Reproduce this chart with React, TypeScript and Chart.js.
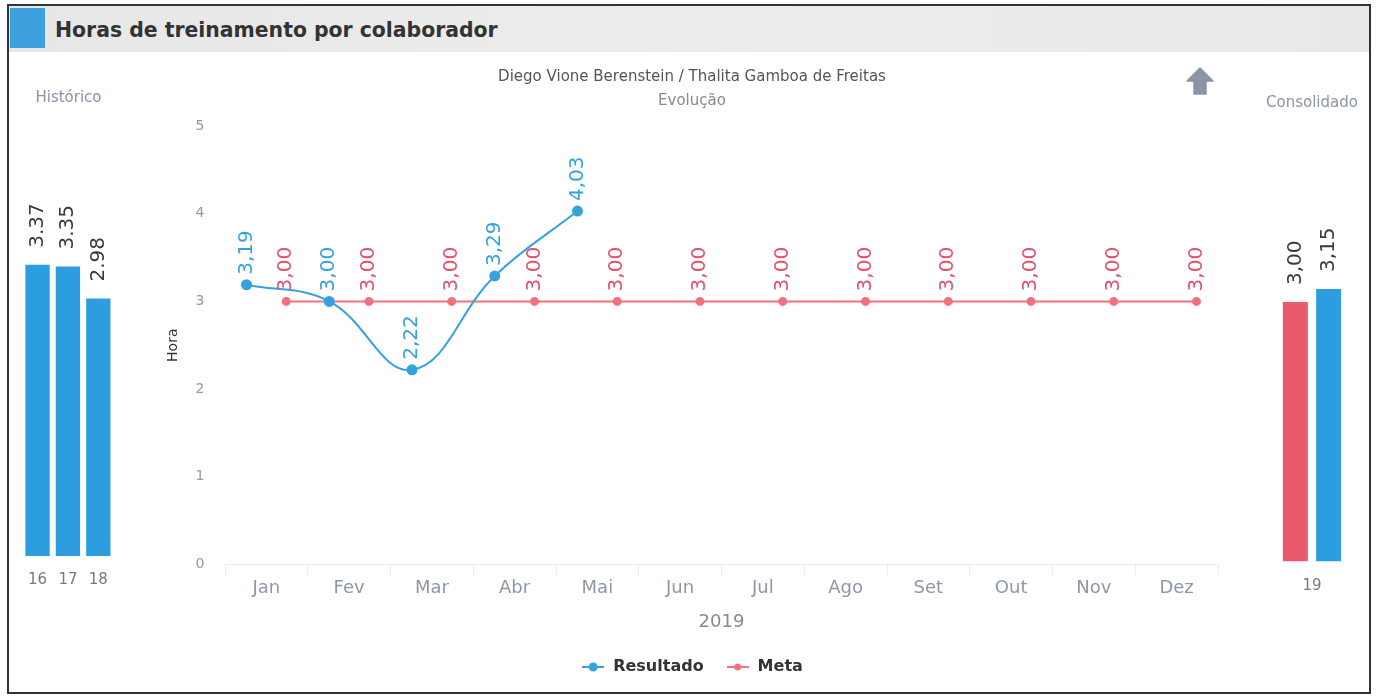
import React, { useEffect, useRef } from 'react';
import { Chart, registerables } from 'chart.js';

Chart.register(...registerables);

// ---------- data ----------
const HIST_LABELS = ['16', '17', '18'];
const HIST_VALUES = [3.37, 3.35, 2.98];

const MONTHS = ['Jan', 'Fev', 'Mar', 'Abr', 'Mai', 'Jun', 'Jul', 'Ago', 'Set', 'Out', 'Nov', 'Dez'];
const RESULTADO = [3.19, 3.0, 2.22, 3.29, 4.03];
const META = [3.0, 3.0, 3.0, 3.0, 3.0, 3.0, 3.0, 3.0, 3.0, 3.0, 3.0, 3.0];

const CONS_LABELS = ['19'];
const CONS_META = [3.0];
const CONS_RESULTADO = [3.15];

const Y_MIN = 0;
const Y_MAX = 5;
const SERIES_SHIFT = 0.24;

// ---------- styles ----------
const FONT = "'DejaVu Sans', sans-serif";
const BLUE = '#2c9ee0';
const BLUE_LINE = '#35a2e0';
const RED_LINE = '#f4707f';
const RED_LABEL = '#e3506c';
const RED_BAR = '#e95a6c';

const valueLabelPlugin = {
  id: 'valueLabels',
  afterDatasetsDraw(chart: any, _args: any, opts: any) {
    const ctx = chart.ctx;
    chart.data.datasets.forEach((ds: any, di: number) => {
      const meta = chart.getDatasetMeta(di);
      if (meta.hidden) return;
      meta.data.forEach((el: any, i: number) => {
        const raw = ds.data[i];
        const v = raw !== null && typeof raw === 'object' ? raw.y : raw;
        if (v === null || v === undefined) return;
        const { x, y } = el.getProps(['x', 'y'], true);
        const text = Number(v).toFixed(2).replace('.', opts.decimal);
        ctx.save();
        ctx.translate(x, y - opts.gap);
        ctx.rotate(-Math.PI / 2);
        ctx.font = opts.font;
        ctx.fillStyle = ds.labelColor || opts.color;
        ctx.textAlign = 'left';
        ctx.textBaseline = 'middle';
        ctx.fillText(text, 0, 0);
        ctx.restore();
      });
    });
  },
};

// invisible axis used only to reserve a fixed amount of room at one side
function spacer(position: string, size: number): any {
  const horizontal = position === 'top' || position === 'bottom';
  return {
    type: 'linear',
    position,
    display: true,
    grid: { display: false, drawTicks: false },
    border: { display: false },
    ticks: { display: false },
    afterFit: (s: any) => {
      if (horizontal) s.height = size;
      else s.width = size;
    },
  };
}

function makeSymbol(color: string, r: number) {
  const c = document.createElement('canvas');
  c.width = 22;
  c.height = 12;
  const g = c.getContext('2d')!;
  g.strokeStyle = color;
  g.lineWidth = 2;
  g.beginPath();
  g.moveTo(0, 6);
  g.lineTo(22, 6);
  g.stroke();
  g.fillStyle = color;
  g.beginPath();
  g.arc(11, 6, r, 0, Math.PI * 2);
  g.fill();
  return c;
}

function ChartCanvas({ make, left, top, width, height }: any) {
  const ref = useRef<HTMLCanvasElement>(null);
  useEffect(() => {
    const chart = new Chart(ref.current as HTMLCanvasElement, make());
    return () => chart.destroy();
  }, []);
  return (
    <canvas
      ref={ref}
      width={width}
      height={height}
      style={{ position: 'absolute', left, top, width, height }}
    />
  );
}

function barOptions(title: string, decimal: string, padL: number, padR: number, tickPad: number): any {
  return {
    responsive: false,
    animation: false,
    layout: { padding: 0 },
    plugins: {
      legend: { display: false },
      tooltip: { enabled: false },
      title: {
        display: true,
        text: title,
        color: '#8a92a8',
        font: { family: FONT, size: 15, weight: 'normal' },
        padding: { top: 4, bottom: 17 },
      },
      valueLabels: { decimal, gap: 17, font: `20px ${FONT}`, color: '#3a3a3a' },
    },
    scales: {
      x: {
        grid: { display: false, drawTicks: false },
        border: { display: false },
        ticks: { color: '#7a7a7a', font: { family: FONT, size: 15 }, padding: tickPad, maxRotation: 0 },
        afterFit: (s: any) => {
          s.height = tickPad + 18;
        },
      },
      y: { display: false, min: Y_MIN, max: Y_MAX },
      padL: spacer('left', padL),
      padR: spacer('right', padR),
    },
  };
}

function historicoConfig(): any {
  return {
    type: 'bar',
    data: {
      labels: HIST_LABELS,
      datasets: [
        {
          label: 'Histórico',
          data: HIST_VALUES,
          backgroundColor: BLUE,
          categoryPercentage: 1,
          barPercentage: 0.8,
        },
      ],
    },
    plugins: [valueLabelPlugin],
    options: barOptions('Histórico', '.', 6, 11.5, 15),
  };
}

function consolidadoConfig(): any {
  return {
    type: 'bar',
    data: {
      labels: CONS_LABELS,
      datasets: [
        {
          label: 'Meta',
          data: CONS_META,
          backgroundColor: RED_BAR,
          categoryPercentage: 0.9,
          barPercentage: 0.75,
        },
        {
          label: 'Resultado',
          data: CONS_RESULTADO,
          backgroundColor: BLUE,
          categoryPercentage: 0.9,
          barPercentage: 0.75,
        },
      ],
    },
    plugins: [valueLabelPlugin],
    options: barOptions('Consolidado', ',', 13, 13, 15.5),
  };
}

function evolucaoConfig(): any {
  const symbols = [makeSymbol(BLUE_LINE, 4.5), makeSymbol(RED_LINE, 3.5)];
  return {
    type: 'line',
    data: {
      datasets: [
        {
          label: 'Resultado',
          xAxisID: 'xPos',
          data: RESULTADO.map((v, i) => ({ x: i - SERIES_SHIFT, y: v })),
          borderColor: BLUE_LINE,
          backgroundColor: BLUE_LINE,
          borderWidth: 2,
          pointRadius: 4.5,
          pointHoverRadius: 4.5,
          tension: 0.4,
          labelColor: BLUE_LINE,
        },
        {
          label: 'Meta',
          xAxisID: 'xPos',
          data: META.map((v, i) => ({ x: i + SERIES_SHIFT, y: v })),
          borderColor: RED_LINE,
          backgroundColor: RED_LINE,
          borderWidth: 2,
          pointRadius: 3.5,
          pointHoverRadius: 3.5,
          tension: 0,
          labelColor: RED_LABEL,
        },
      ],
    },
    plugins: [valueLabelPlugin],
    options: {
      responsive: false,
      animation: false,
      layout: { padding: 0 },
      plugins: {
        tooltip: { enabled: false },
        title: {
          display: true,
          text: 'Diego Vione Berenstein / Thalita Gamboa de Freitas',
          color: '#555',
          font: { family: FONT, size: 15, weight: 'normal' },
          padding: { top: 8, bottom: 6 },
        },
        subtitle: {
          display: true,
          text: 'Evolução',
          color: '#8a8a8a',
          font: { family: FONT, size: 15, weight: 'normal' },
          padding: { top: 0, bottom: 16 },
        },
        legend: {
          position: 'bottom',
          labels: {
            usePointStyle: true,
            pointStyleWidth: 24,
            padding: 22,
            color: '#333',
            font: { family: FONT, size: 16, weight: 'bold' },
            generateLabels: (chart: any) => {
              const items = Chart.defaults.plugins.legend.labels.generateLabels(chart);
              return items.map((it: any, i: number) => ({ ...it, pointStyle: symbols[i] }));
            },
          },
        },
        valueLabels: { decimal: ',', gap: 10, font: `20px ${FONT}`, color: '#333' },
      },
      scales: {
        x: {
          type: 'category',
          labels: MONTHS,
          offset: true,
          grid: { display: true, offset: true, drawOnChartArea: false, tickLength: 10, color: '#ebebeb' },
          border: { display: true, color: '#ebebeb' },
          ticks: { color: '#8f97a6', font: { family: FONT, size: 18 }, padding: 3.5, maxRotation: 0 },
          title: {
            display: true,
            text: '2019',
            color: '#8a8a8a',
            font: { family: FONT, size: 18 },
            padding: { top: 8.5, bottom: 3.8 },
          },
        },
        xPos: {
          type: 'linear',
          axis: 'x',
          position: 'bottom',
          display: false,
          min: -0.5,
          max: MONTHS.length - 0.5,
        },
        y: {
          min: Y_MIN,
          max: Y_MAX,
          grid: { display: false, drawTicks: false },
          border: { display: false },
          ticks: { stepSize: 1, color: '#999', font: { family: FONT, size: 14 }, padding: 20.5 },
          title: {
            display: true,
            text: 'Hora',
            color: '#333',
            font: { family: FONT, size: 14 },
            padding: { top: 14.6, bottom: 5 },
          },
          afterFit: (s: any) => {
            s.width = 75;
          },
        },
        ySpacer: spacer('right', 16),
      },
    },
  };
}

export default function App() {
  return (
    <div style={{ position: 'absolute', left: 0, top: 0, width: 1378, height: 697, background: '#fff' }}>
      <div
        style={{
          position: 'absolute',
          left: 9,
          top: 6,
          width: 1360,
          height: 46,
          background: 'linear-gradient(to right, #e7e7e7, #ededed 50%, #e9e9e9)',
        }}
      />
      <div
        style={{
          position: 'absolute',
          left: 7,
          top: 4,
          width: 1364,
          height: 690,
          border: '2px solid #333',
          boxSizing: 'border-box',
        }}
      />
      <div style={{ position: 'absolute', left: 10, top: 8, width: 35, height: 40, background: '#3ba0dd' }} />
      <div
        style={{
          position: 'absolute',
          left: 55,
          top: 18,
          fontFamily: FONT,
          fontWeight: 'bold',
          fontSize: 20.4,
          lineHeight: '24px',
          color: '#333',
          whiteSpace: 'nowrap',
        }}
      >
        Horas de treinamento por colaborador
      </div>
      <svg
        style={{ position: 'absolute', left: 1186, top: 67 }}
        width={28}
        height={28}
        viewBox="0 0 28 28"
      >
        <path
          d="M14 1 L27 14 L20 14 L20 27 L8 27 L8 14 L1 14 Z"
          fill="#8c95a6"
          stroke="#8c95a6"
          strokeWidth={1.5}
          strokeLinejoin="round"
        />
      </svg>
      <ChartCanvas make={historicoConfig} left={12} top={85} width={113} height={504} />
      <ChartCanvas make={evolucaoConfig} left={150} top={60} width={1084} height={625} />
      <ChartCanvas make={consolidadoConfig} left={1262} top={90} width={100} height={505} />
    </div>
  );
}
